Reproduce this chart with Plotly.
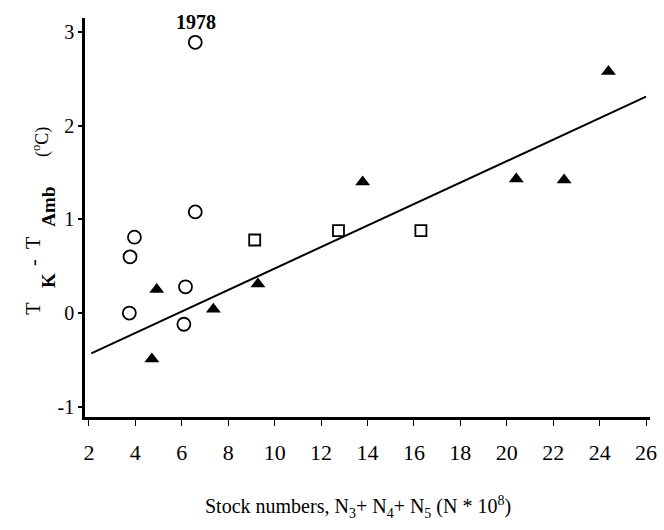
import plotly.graph_objects as go

# Data
circle_x = [6.58, 6.58, 3.96, 3.77, 6.16, 3.74, 6.09]
circle_y = [2.89, 1.08, 0.81, 0.60, 0.28, 0.00, -0.12]
triangle_x = [4.71, 4.92, 7.36, 9.28, 13.79, 20.41, 22.47, 24.38]
triangle_y = [-0.49, 0.25, 0.04, 0.31, 1.40, 1.43, 1.42, 2.58]
square_x = [9.14, 12.75, 16.30]
square_y = [0.78, 0.88, 0.88]
fit_x = [2.1, 26.0]
fit_y = [-0.43, 2.31]
x_ticks = [2, 4, 6, 8, 10, 12, 14, 16, 18, 20, 22, 24, 26]
y_ticks = [-1, 0, 1, 2, 3]
label_point = {"text": "1978", "x": 6.58, "y": 2.89}

SERIF = "Liberation Serif"

fig = go.Figure()
fig.add_trace(go.Scatter(x=fit_x, y=fit_y, mode="lines",
                         line=dict(color="black", width=2), hoverinfo="skip"))
fig.add_trace(go.Scatter(x=circle_x, y=circle_y, mode="markers",
                         marker=dict(symbol="circle-open", size=13, color="black",
                                     line=dict(width=1.8, color="black"))))
fig.add_trace(go.Scatter(x=triangle_x, y=triangle_y, mode="markers",
                         marker=dict(symbol="triangle-up", size=13, color="black",
                                     line=dict(width=0))))
fig.add_trace(go.Scatter(x=square_x, y=square_y, mode="markers",
                         marker=dict(symbol="square-open", size=11, color="black",
                                     line=dict(width=1.8, color="black"))))

fig.add_annotation(x=label_point["x"], y=label_point["y"], text="<b>" + label_point["text"] + "</b>",
                   showarrow=False, yshift=20, xshift=1,
                   font=dict(family=SERIF, size=20, color="black"))

# y-axis title pieces (rotated, with large subscripts as in the reference)
ytitle_parts = [
    ("T", 0.251, -65, 20, False),
    ("K", 0.318, -49, 19, True),
    ("-", 0.386, -65, 20, False),
    ("T", 0.436, -65, 20, False),
    ("Amb", 0.526, -49, 19, True),
    ("(<sup>o</sup>C)", 0.732, -58, 18, False),
]
for txt, yp, xs, fs, bold in ytitle_parts:
    fig.add_annotation(xref="paper", yref="paper", x=0, y=yp, xshift=xs,
                       textangle=-90, showarrow=False,
                       text=("<b>%s</b>" % txt) if bold else txt,
                       font=dict(family=SERIF, size=fs, color="black"))

# x-axis title
fig.add_annotation(xref="paper", yref="paper", x=0.4825, y=0, yshift=-90,
                   showarrow=False, yanchor="middle",
                   text="Stock numbers, N<sub>3</sub>+ N<sub>4</sub>+ N<sub>5</sub> (N * 10<sup>8</sup>)",
                   font=dict(family=SERIF, size=20, color="black"))

fig.update_layout(
    width=664, height=530,
    margin=dict(l=85, r=7, t=18, b=113),
    paper_bgcolor="white", plot_bgcolor="white",
    showlegend=False,
    font=dict(family=SERIF, color="black"),
)
fig.update_xaxes(range=[1.83, 26.17], tickvals=x_ticks, ticktext=[str(v) for v in x_ticks],
                 showgrid=False, zeroline=False, showline=True, linecolor="black", linewidth=2.5,
                 ticks="outside", ticklen=6, tickwidth=1.2, tickcolor="black",
                 ticklabelstandoff=8,
                 tickfont=dict(family=SERIF, size=22, color="black"))
fig.update_yaxes(range=[-1.11, 3.15], tickvals=y_ticks, ticktext=[str(v) for v in y_ticks],
                 showgrid=False, zeroline=False, showline=True, linecolor="black", linewidth=2.5,
                 ticks="outside", ticklen=4, tickwidth=1.5, tickcolor="black",
                 tickfont=dict(family=SERIF, size=20, color="black"))

fig.write_html("out.html")
